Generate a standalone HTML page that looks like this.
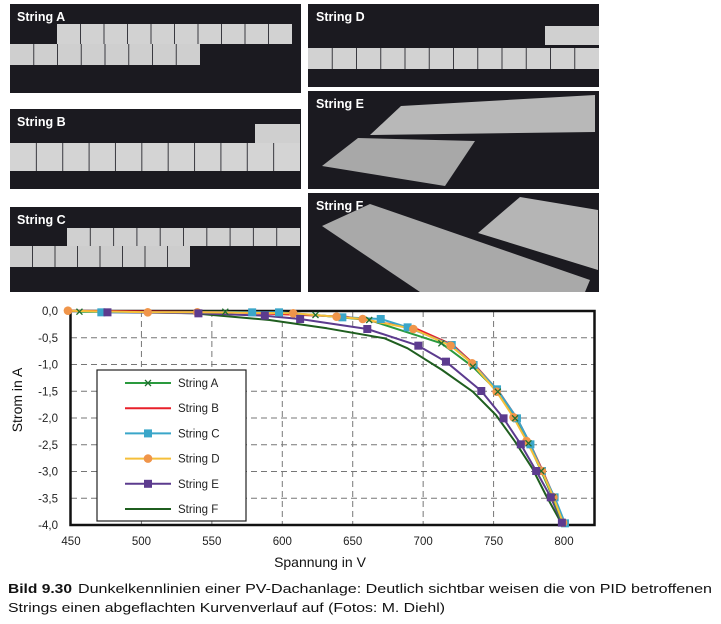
<!DOCTYPE html>
<html><head><meta charset="utf-8"><style>
html,body{margin:0;padding:0;background:#fff;width:721px;height:624px;overflow:hidden}
svg{display:block;font-family:"Liberation Sans",Arial,sans-serif}
</style></head><body>
<svg id="s" width="721" height="624" viewBox="0 0 721 624" xmlns="http://www.w3.org/2000/svg">
<g>
<rect x="10" y="4" width="291" height="89" fill="#1b1a20"/>
<rect x="57" y="24" width="235" height="20" fill="#d2d2d2"/>
<rect x="10" y="44" width="190" height="21" fill="#cfcfcf"/>
<g id="sepA" stroke="#555" stroke-width="1"></g>
<text x="17" y="21" fill="#fff" font-size="12.5" font-weight="bold">String A</text>

<rect x="10" y="109" width="291" height="80" fill="#1b1a20"/>
<rect x="10" y="143" width="290" height="28" fill="#d4d4d4"/>
<rect x="255" y="124" width="45" height="19" fill="#cfcfcf"/>
<text x="17" y="126" fill="#fff" font-size="12.5" font-weight="bold">String B</text>

<rect x="10" y="207" width="291" height="85" fill="#1b1a20"/>
<rect x="67" y="228" width="233" height="18" fill="#d0d0d0"/>
<rect x="10" y="246" width="180" height="21" fill="#cdcdcd"/>
<text x="17" y="224" fill="#fff" font-size="12.5" font-weight="bold">String C</text>

<rect x="308" y="4" width="291" height="83" fill="#1b1a20"/>
<rect x="308" y="48" width="291" height="21" fill="#d2d2d2"/>
<rect x="545" y="26" width="54" height="19" fill="#d0d0d0"/>
<text x="316" y="21" fill="#fff" font-size="12.5" font-weight="bold">String D</text>

<rect x="308" y="91" width="291" height="98" fill="#1b1a20"/>
<polygon points="401,106 595,95 595,132 370,135" fill="#b8b8b8"/>
<polygon points="358,138 475,141 445,186 322,166" fill="#a8a8a8"/>
<text x="316" y="108" fill="#fff" font-size="12.5" font-weight="bold">String E</text>

<rect x="308" y="193" width="291" height="99" fill="#1b1a20"/>
<polygon points="322,226 370,204 590,280 585,292 420,292" fill="#a9a9a9"/>
<polygon points="478,233 520,197 598,210 598,270" fill="#b5b5b5"/>
<text x="316" y="210" fill="#fff" font-size="12.5" font-weight="bold">String F</text>
<g id="seps" stroke="#3a3a40" stroke-width="1"></g>
</g>
<g id="grid" stroke="#777" stroke-width="1" stroke-dasharray="6,4" fill="none"></g>
<rect x="70.5" y="311" width="524" height="214" fill="none" stroke="#111" stroke-width="2.5"/>
<g id="series"></g>
<g id="ticks" font-size="11.5" fill="#222"></g>
<text x="320" y="567" font-size="14" text-anchor="middle" fill="#111">Spannung in V</text>
<text transform="translate(22,400) rotate(-90)" font-size="14" text-anchor="middle" fill="#111">Strom in A</text>
<rect x="97" y="370" width="149" height="151" fill="#fff" stroke="#222" stroke-width="1.2"/>
<g id="legend" font-size="11.5" fill="#222"></g>
<text x="8" y="593" font-size="13.2" font-weight="bold" textLength="64" lengthAdjust="spacingAndGlyphs" fill="#111">Bild 9.30</text>
<text x="78" y="593" font-size="13.2" textLength="634" lengthAdjust="spacingAndGlyphs" fill="#111">Dunkelkennlinien einer PV-Dachanlage: Deutlich sichtbar weisen die von PID betroffenen</text>
<text x="8" y="612" font-size="13.2" textLength="437" lengthAdjust="spacingAndGlyphs" fill="#111">Strings einen abgeflachten Kurvenverlauf auf (Fotos: M. Diehl)</text>
</svg>
<script>
var NS="http://www.w3.org/2000/svg";
function el(p,t,a,txt){var e=document.createElementNS(NS,t);for(var k in a)e.setAttribute(k,a[k]);if(txt)e.textContent=txt;p.appendChild(e);return e;}
var sp=document.getElementById('seps');
function vs(x0,x1,n,y0,y1){for(var i=1;i<n;i++){var x=x0+(x1-x0)*i/n;el(sp,'line',{x1:x,x2:x,y1:y0,y2:y1});}}
vs(57,292,10,24,44);vs(10,200,8,44,65);vs(10,300,11,143,171);vs(67,300,10,228,246);vs(10,190,8,246,267);vs(308,599,12,48,69);
function X(v){return 71+(v-450)*1.4086;}
function Y(a){return 311-a*53.5;}
var g=document.getElementById('grid');
for(var v=500;v<=750;v+=50)el(g,'line',{x1:X(v),x2:X(v),y1:311,y2:525});
for(var a=-0.5;a>=-3.5;a-=0.5)el(g,'line',{x1:71,x2:594,y1:Y(a),y2:Y(a)});
var t=document.getElementById('ticks');
for(var v=450;v<=800;v+=50)el(t,'text',{x:X(v),y:545,'text-anchor':'middle'},String(v));
for(var i=0;i<=8;i++){var a=-i*0.5;el(t,'text',{x:58,y:Y(a)+4,'text-anchor':'end'},a.toFixed(1).replace('.',',').replace('-0,0','0,0'));}
function zx(x){return 0.3838*x+0.77;} function zy(y){return y/3+295;}
var S=document.getElementById('series');
function P(pts){return pts.map(function(p){return zx(p[0]).toFixed(1)+','+zy(p[1]).toFixed(1);}).join(' ');}
var F=[[183,47],[500,55],[700,75],[850,100],[1000,130],[1060,160],[1150,225],[1230,290],[1290,360],[1340,440],[1385,520],[1420,600],[1460,683]];
var E=[[278,52],[515,55],[688,62],[780,72],[955,102],[1088,152],[1160,200],[1252,288],[1310,370],[1355,448],[1395,528],[1433,607],[1462,683]];
var C=[[262,52],[655,52],[725,52],[890,67],[990,72],[1060,97],[1175,150],[1232,210],[1293,283],[1345,370],[1380,448],[1410,528],[1443,607],[1470,685]];
var D=[[175,47],[383,52],[512,52],[762,55],[875,65],[943,72],[1075,102],[1172,152],[1228,205],[1292,290],[1336,367],[1370,438],[1410,528],[1440,607],[1465,683]];
var A=[[205,50],[585,50],[820,60],[960,75],[1148,145],[1230,215],[1295,290],[1340,370],[1375,445],[1408,528],[1438,607],[1463,683]];
var B=[[175,47],[600,52],[900,65],[1080,100],[1178,150],[1235,210],[1298,290],[1345,370],[1380,448],[1412,528],[1442,607],[1466,683]];
function line(pts,c,w){el(S,'polyline',{points:P(pts),fill:'none',stroke:c,'stroke-width':w,'stroke-linejoin':'round'});}
function sq(x,y,c,s){el(S,'rect',{x:x-s/2,y:y-s/2,width:s,height:s,fill:c});}
line(F,'#1f5e1f',2);line(E,'#5c3b8e',2);line(A,'#2a9a3e',2);line(B,'#e8202a',2);line(C,'#3aa6c9',2);line(D,'#f5bf3a',2);
C.forEach(function(p){sq(zx(p[0]),zy(p[1]),'#3aa6c9',8);});
D.forEach(function(p){el(S,'circle',{cx:zx(p[0]),cy:zy(p[1]),r:4.3,fill:'#f0954a'});});
A.forEach(function(p){var x=zx(p[0]),y=zy(p[1]);el(S,'path',{d:'M'+(x-3)+' '+(y-3)+'L'+(x+3)+' '+(y+3)+'M'+(x-3)+' '+(y+3)+'L'+(x+3)+' '+(y-3),stroke:'#1e6e2e','stroke-width':1.3});});
E.forEach(function(p){sq(zx(p[0]),zy(p[1]),'#5c3b8e',8);});
var L=document.getElementById('legend');
var items=[['String A','#2a9a3e','x'],['String B','#e8202a',''],['String C','#3aa6c9','s'],['String D','#f5bf3a','c'],['String E','#5c3b8e','s'],['String F','#1f5e1f','']];
items.forEach(function(it,i){var y=383+i*25.2;el(L,'line',{x1:125,x2:171,y1:y,y2:y,stroke:it[1],'stroke-width':2});
 var x=148;
 if(it[2]=='x')el(L,'path',{d:'M'+(x-3)+' '+(y-3)+'L'+(x+3)+' '+(y+3)+'M'+(x-3)+' '+(y+3)+'L'+(x+3)+' '+(y-3),stroke:'#1e6e2e','stroke-width':1.3});
 if(it[2]=='s')el(L,'rect',{x:x-4,y:y-4,width:8,height:8,fill:it[1]});
 if(it[2]=='c')el(L,'circle',{cx:x,cy:y,r:4.3,fill:'#f0954a'});
 el(L,'text',{x:178,y:y+4},it[0]);});
</script>
</body></html>
